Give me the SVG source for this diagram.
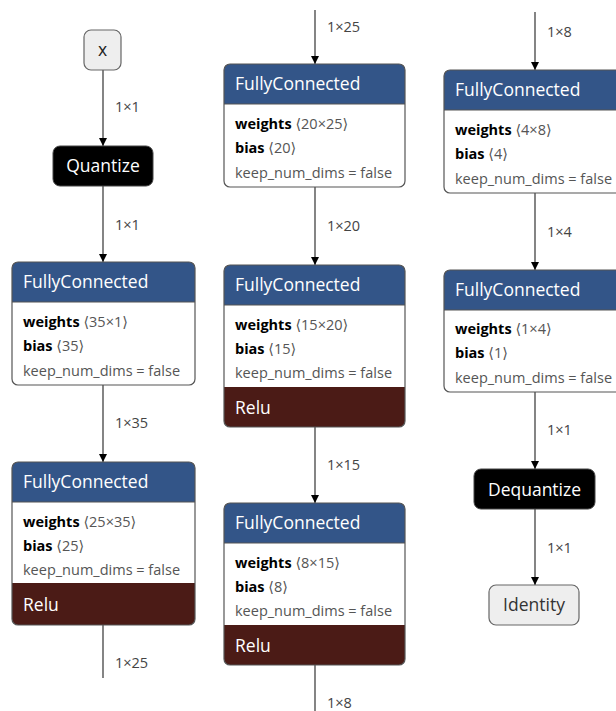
<svg xmlns="http://www.w3.org/2000/svg" width="616" height="711" viewBox="0 0 616 711">
<defs>
<marker id="arr" markerWidth="10" markerHeight="10" refX="8" refY="4" orient="auto" markerUnits="userSpaceOnUse">
<path d="M0,0 L8,4 L0,8 Z" fill="#000"/>
</marker>
<style>
text{font-family:"Open Sans","Noto Sans","DejaVu Sans",sans-serif;}
.edge{stroke:#333;stroke-width:1.2;fill:none;}
.elab{font-size:14.5px;fill:#444;}
.hdr{fill:#335588;}
.relu{fill:#4b1b16;}
.outline{fill:none;stroke:#555;stroke-width:1.2;}
.body{fill:#fff;}
.htxt{font-size:17.5px;fill:#fff;}
.b{font-size:14.5px;font-weight:bold;fill:#000;}
.g{font-size:14.5px;fill:#555;}
.blk{fill:#000;stroke:#444;stroke-width:1;}
.in{fill:#eeeeee;stroke:#666;stroke-width:1.2;}
.ctr{font-size:17.5px;text-anchor:middle;}
</style>
</defs>

<g id="connectors">
<line class="edge" x1="103" y1="70" x2="103" y2="146" marker-end="url(#arr)"/>
<text class="elab" x="115" y="112">1×1</text>
<line class="edge" x1="103" y1="186" x2="103" y2="262" marker-end="url(#arr)"/>
<text class="elab" x="115" y="230">1×1</text>
<line class="edge" x1="103" y1="385" x2="103" y2="462" marker-end="url(#arr)"/>
<text class="elab" x="115" y="428">1×35</text>
<line class="edge" x1="103" y1="625" x2="103" y2="678"/>
<text class="elab" x="115" y="668">1×25</text>

<line class="edge" x1="315" y1="10" x2="315" y2="64" marker-end="url(#arr)"/>
<text class="elab" x="327" y="32">1×25</text>
<line class="edge" x1="315" y1="187" x2="315" y2="265" marker-end="url(#arr)"/>
<text class="elab" x="327" y="231">1×20</text>
<line class="edge" x1="315" y1="427" x2="315" y2="503" marker-end="url(#arr)"/>
<text class="elab" x="327" y="470">1×15</text>
<line class="edge" x1="315" y1="665" x2="315" y2="711"/>
<text class="elab" x="327" y="708">1×8</text>

<line class="edge" x1="535" y1="12" x2="535" y2="70" marker-end="url(#arr)"/>
<text class="elab" x="547" y="37">1×8</text>
<line class="edge" x1="535" y1="193" x2="535" y2="270" marker-end="url(#arr)"/>
<text class="elab" x="547" y="237">1×4</text>
<line class="edge" x1="535" y1="392" x2="535" y2="469" marker-end="url(#arr)"/>
<text class="elab" x="547" y="435">1×1</text>
<line class="edge" x1="535" y1="509" x2="535" y2="585" marker-end="url(#arr)"/>
<text class="elab" x="547" y="553">1×1</text>
</g>

<g id="node-x">
<rect class="in" x="84" y="30" width="37" height="40" rx="7"/>
<text class="ctr" x="102.5" y="56" fill="#222" font-size="15">x</text>
</g>

<g id="node-quantize">
<rect class="blk" x="53" y="146" width="100" height="40" rx="7"/>
<text class="ctr" x="103" y="172" fill="#fff">Quantize</text>
</g>

<g id="node-fc1">
<rect class="body" x="12" y="262" width="183" height="123" rx="6"/>
<path class="hdr" d="M12,302 V268 a6,6 0 0 1 6,-6 H189 a6,6 0 0 1 6,6 V302 Z"/>
<line x1="12" y1="302" x2="195" y2="302" stroke="#555" stroke-width="1"/>
<rect class="outline" x="12" y="262" width="183" height="123" rx="6"/>
<text class="htxt" x="23" y="288">FullyConnected</text>
<text x="23" y="327"><tspan class="b">weights</tspan><tspan class="g"> ⟨35×1⟩</tspan></text>
<text x="23" y="351"><tspan class="b">bias</tspan><tspan class="g"> ⟨35⟩</tspan></text>
<text class="g" x="23" y="376">keep_num_dims = false</text>
</g>

<g id="node-fc2">
<rect class="body" x="12" y="462" width="183" height="163" rx="6"/>
<path class="hdr" d="M12,502 V468 a6,6 0 0 1 6,-6 H189 a6,6 0 0 1 6,6 V502 Z"/>
<path class="relu" d="M12,583 H195 V619 a6,6 0 0 1 -6,6 H18 a6,6 0 0 1 -6,-6 Z"/>
<line x1="12" y1="502" x2="195" y2="502" stroke="#555" stroke-width="1"/>
<rect class="outline" x="12" y="462" width="183" height="163" rx="6"/>
<text class="htxt" x="23" y="488">FullyConnected</text>
<text x="23" y="527"><tspan class="b">weights</tspan><tspan class="g"> ⟨25×35⟩</tspan></text>
<text x="23" y="551"><tspan class="b">bias</tspan><tspan class="g"> ⟨25⟩</tspan></text>
<text class="g" x="23" y="575">keep_num_dims = false</text>
<text class="htxt" x="23" y="611">Relu</text>
</g>

<g id="node-fc3">
<rect class="body" x="224" y="64" width="181" height="123" rx="6"/>
<path class="hdr" d="M224,104 V70 a6,6 0 0 1 6,-6 H399 a6,6 0 0 1 6,6 V104 Z"/>
<line x1="224" y1="104" x2="405" y2="104" stroke="#555" stroke-width="1"/>
<rect class="outline" x="224" y="64" width="181" height="123" rx="6"/>
<text class="htxt" x="235" y="90">FullyConnected</text>
<text x="235" y="129"><tspan class="b">weights</tspan><tspan class="g"> ⟨20×25⟩</tspan></text>
<text x="235" y="153"><tspan class="b">bias</tspan><tspan class="g"> ⟨20⟩</tspan></text>
<text class="g" x="235" y="178">keep_num_dims = false</text>
</g>

<g id="node-fc4">
<rect class="body" x="224" y="265" width="181" height="162" rx="6"/>
<path class="hdr" d="M224,305 V271 a6,6 0 0 1 6,-6 H399 a6,6 0 0 1 6,6 V305 Z"/>
<path class="relu" d="M224,387 H405 V421 a6,6 0 0 1 -6,6 H230 a6,6 0 0 1 -6,-6 Z"/>
<line x1="224" y1="305" x2="405" y2="305" stroke="#555" stroke-width="1"/>
<rect class="outline" x="224" y="265" width="181" height="162" rx="6"/>
<text class="htxt" x="235" y="291">FullyConnected</text>
<text x="235" y="330"><tspan class="b">weights</tspan><tspan class="g"> ⟨15×20⟩</tspan></text>
<text x="235" y="354"><tspan class="b">bias</tspan><tspan class="g"> ⟨15⟩</tspan></text>
<text class="g" x="235" y="378">keep_num_dims = false</text>
<text class="htxt" x="235" y="414">Relu</text>
</g>

<g id="node-fc5">
<rect class="body" x="224" y="503" width="181" height="162" rx="6"/>
<path class="hdr" d="M224,543 V509 a6,6 0 0 1 6,-6 H399 a6,6 0 0 1 6,6 V543 Z"/>
<path class="relu" d="M224,625 H405 V659 a6,6 0 0 1 -6,6 H230 a6,6 0 0 1 -6,-6 Z"/>
<line x1="224" y1="543" x2="405" y2="543" stroke="#555" stroke-width="1"/>
<rect class="outline" x="224" y="503" width="181" height="162" rx="6"/>
<text class="htxt" x="235" y="529">FullyConnected</text>
<text x="235" y="568"><tspan class="b">weights</tspan><tspan class="g"> ⟨8×15⟩</tspan></text>
<text x="235" y="592"><tspan class="b">bias</tspan><tspan class="g"> ⟨8⟩</tspan></text>
<text class="g" x="235" y="616">keep_num_dims = false</text>
<text class="htxt" x="235" y="652">Relu</text>
</g>

<g id="node-fc6">
<rect class="body" x="444" y="70" width="183" height="123" rx="6"/>
<path class="hdr" d="M444,110 V76 a6,6 0 0 1 6,-6 H621 a6,6 0 0 1 6,6 V110 Z"/>
<line x1="444" y1="110" x2="627" y2="110" stroke="#555" stroke-width="1"/>
<rect class="outline" x="444" y="70" width="183" height="123" rx="6"/>
<text class="htxt" x="455" y="96">FullyConnected</text>
<text x="455" y="135"><tspan class="b">weights</tspan><tspan class="g"> ⟨4×8⟩</tspan></text>
<text x="455" y="159"><tspan class="b">bias</tspan><tspan class="g"> ⟨4⟩</tspan></text>
<text class="g" x="455" y="184">keep_num_dims = false</text>
</g>

<g id="node-fc7">
<rect class="body" x="444" y="270" width="183" height="122" rx="6"/>
<path class="hdr" d="M444,310 V276 a6,6 0 0 1 6,-6 H621 a6,6 0 0 1 6,6 V310 Z"/>
<line x1="444" y1="310" x2="627" y2="310" stroke="#555" stroke-width="1"/>
<rect class="outline" x="444" y="270" width="183" height="122" rx="6"/>
<text class="htxt" x="455" y="296">FullyConnected</text>
<text x="455" y="334"><tspan class="b">weights</tspan><tspan class="g"> ⟨1×4⟩</tspan></text>
<text x="455" y="358"><tspan class="b">bias</tspan><tspan class="g"> ⟨1⟩</tspan></text>
<text class="g" x="455" y="383">keep_num_dims = false</text>
</g>

<g id="node-dequantize">
<rect class="blk" x="474" y="469" width="121" height="40" rx="7"/>
<text class="ctr" x="534.5" y="496" fill="#fff">Dequantize</text>
</g>

<g id="node-identity">
<rect class="in" x="489" y="585" width="90" height="40" rx="7"/>
<text class="ctr" x="534" y="611" fill="#333">Identity</text>
</g>
</svg>
